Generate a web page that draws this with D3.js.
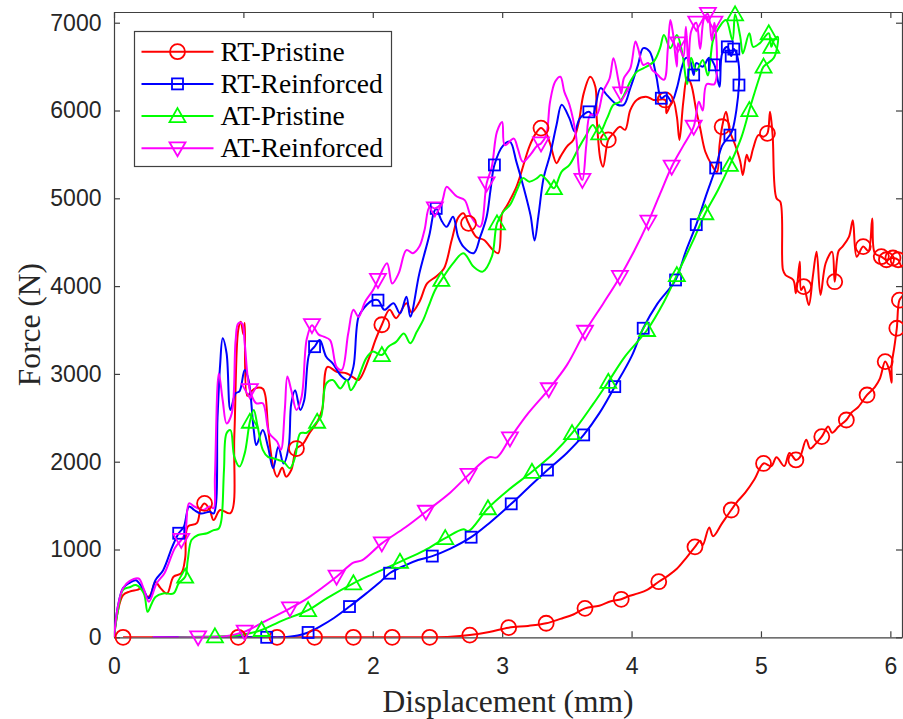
<!DOCTYPE html>
<html>
<head>
<meta charset="utf-8">
<script src="https://cdn.jsdelivr.net/npm/d3@7"></script>
<style>
  html, body { margin: 0; padding: 0; background: #fff; }
  svg { display: block; }
</style>
</head>
<body>
<svg id="chart" width="903" height="719"></svg>
<script>
// Force–displacement curves (loading then unloading). Third element = 1 marks a plotted marker.
const seriesNames = ["RT-Pristine", "RT-Reinforced", "AT-Pristine", "AT-Reinforced"];
const xTicks = [0, 1, 2, 3, 4, 5, 6];
const yTicks = [0, 1000, 2000, 3000, 4000, 5000, 6000, 7000];

const rtPristine = [
  [0,0],[0.03,300],[0.07,480],[0.12,520],[0.18,540],[0.22,560],[0.25,450],[0.28,480],[0.32,630],[0.36,560],
  [0.41,500],[0.46,690],[0.52,730],[0.55,900],[0.57,1260],[0.64,1300],[0.67,1470],[0.70,1525,1],[0.74,1450],
  [0.77,1335],[0.82,1450],[0.90,1415],[0.93,2300],[0.96,3500],[0.98,3595],[1.00,3450],[1.01,3580],[1.03,2750],
  [1.06,2800],[1.10,2840],[1.15,2830],[1.17,2750],[1.19,2400],[1.23,1945],[1.26,1830],[1.30,1930],[1.33,1830],
  [1.37,1905],[1.41,2150,1],[1.46,2200],[1.51,2325],[1.57,2450],[1.61,2600],[1.65,3080],[1.72,3025],[1.80,3005],
  [1.85,2960],[1.89,2930],[1.98,3215],[2.02,3385],[2.07,3560,1],[2.13,3730],[2.18,3635],[2.26,3805],[2.30,3700],
  [2.36,3820],[2.42,4030],[2.49,4110],[2.55,4200],[2.61,4525],[2.66,4780],[2.70,4830],[2.74,4715,1],[2.80,4560],
  [2.86,4525],[2.93,4410],[2.97,4375],[3.00,4830],[3.03,4900],[3.11,5130],[3.21,5590],[3.26,5740],[3.30,5800,1],
  [3.34,5740],[3.37,5625],[3.42,5400],[3.45,5475],[3.50,5590],[3.55,5665],[3.59,5855],[3.63,6195],[3.68,6385],
  [3.72,6270],[3.73,5930],[3.76,5435],[3.78,5360],[3.82,5665,1],[3.86,5740],[3.91,5815],[3.95,5780],[3.99,6005],
  [4.04,6120],[4.12,6155],[4.17,6120],[4.26,6120,1],[4.27,5970],[4.32,6120],[4.35,5930],[4.37,5665],[4.40,6100],
  [4.43,6380],[4.46,6300],[4.50,6000],[4.53,5800],[4.57,5530],[4.62,5380],[4.66,5300],[4.68,5610],[4.70,5815,1],
  [4.73,5985],[4.76,5760],[4.80,5610],[4.84,5420],[4.86,5265],[4.89,5495],[4.91,5420],[4.94,5570],[4.98,5720],
  [5.02,5700],[5.05,5740,1],[5.07,5985],[5.09,5720],[5.12,5000],[5.15,4960],[5.17,4185],[5.19,4125],[5.25,4070],
  [5.27,3920],[5.30,4280],[5.31,3955],[5.33,3995,1],[5.37,3785],[5.40,4100],[5.43,4390],[5.46,3900],[5.50,4260],
  [5.55,4390],[5.57,4050,1],[5.60,4400],[5.63,4450],[5.68,4560],[5.71,4750],[5.74,4335],[5.79,4450,1],[5.83,4400],
  [5.86,4770],[5.88,4375],[5.93,4335,1],[5.97,4300,1],[6.02,4320,1],[6.06,4300,1],[6.09,4220],[6.15,4250],
  [6.15,4100],[6.10,3900],[6.07,3840,1],[6.05,3520,1],[6.03,3300],[6.01,3100],[6.01,2900],[5.99,3050],[5.96,3140,1],
  [5.92,2950],[5.88,2850],[5.82,2760,1],[5.75,2620],[5.70,2560],[5.66,2475,1],[5.60,2400],[5.55,2330],[5.52,2400],
  [5.47,2285,1],[5.42,2200],[5.38,2150],[5.35,2250],[5.30,2050],[5.27,2020,1],[5.22,2100],[5.18,1950],[5.12,2050],
  [5.08,1950],[5.02,1980,1],[4.95,1800],[4.88,1650],[4.82,1550],[4.77,1450,1],[4.70,1300],[4.63,1150],[4.60,1250],
  [4.55,1050],[4.53,1100],[4.49,1030,1],[4.42,900],[4.35,780],[4.28,700],[4.21,633,1],[4.12,540],[4.05,500],
  [3.98,470],[3.92,433,1],[3.84,410],[3.75,360],[3.64,330,1],[3.55,260],[3.45,210],[3.34,160,1],[3.20,130],
  [3.05,110,1],[2.90,60],[2.75,25,1],[2.60,5],[2.44,0,1],[2.15,0,1],[1.85,0,1],[1.55,0,1],[1.26,0,1],[0.96,0,1],
  [0.50,0],[0.07,0,1]
];

const rtReinforced = [
  [0,0],[0.03,350],[0.07,560],[0.12,620],[0.17,650],[0.22,560],[0.27,445],[0.32,650],[0.38,765],[0.45,1030],
  [0.50,1185,1],[0.54,1260],[0.58,1490],[0.62,1450],[0.67,1410],[0.74,1430],[0.77,1410],[0.80,2500],[0.82,3100],
  [0.84,3405],[0.87,3235],[0.90,2590],[0.94,2780],[0.97,2800],[1.01,3045],[1.04,2930],[1.08,2360],[1.10,2190],
  [1.15,2360],[1.19,2170],[1.23,1925],[1.27,2170],[1.31,1980],[1.35,2170],[1.37,2665],[1.40,2815],[1.44,2590],
  [1.47,2700],[1.51,3235],[1.55,3310,1],[1.59,3385],[1.64,3195],[1.69,3120],[1.76,2970],[1.81,2930],[1.85,3080],
  [1.89,3650],[1.94,3765],[1.99,3830],[2.04,3840,1],[2.09,3730],[2.16,3805],[2.21,3690],[2.26,3880],[2.29,3650],
  [2.36,4145],[2.44,4600],[2.47,4830],[2.49,4885,1],[2.53,4750],[2.57,4675],[2.62,4790],[2.66,4560],[2.70,4450],
  [2.78,4375],[2.83,4560],[2.88,4790],[2.91,5095],[2.94,5380,1],[3.01,5605],[3.06,5645],[3.11,5415],[3.17,5100],
  [3.22,4800],[3.25,4520],[3.28,4800],[3.32,5230],[3.37,5495],[3.42,5835],[3.46,6065],[3.52,5910],[3.56,5760],
  [3.60,5910],[3.67,5985,1],[3.70,5950],[3.76,6255],[3.81,6175],[3.89,6065],[3.94,6065],[3.99,6255],[4.05,6520],
  [4.09,6710],[4.14,6670],[4.19,6400],[4.23,6140,1],[4.27,6175],[4.31,6100],[4.35,6255],[4.39,6500],[4.42,6600],
  [4.45,6575],[4.48,6405,1],[4.50,6540],[4.55,6500],[4.60,6600],[4.64,6520,1],[4.68,6270],[4.70,6650],
  [4.74,6725,1],[4.77,6620,1],[4.79,6700,1],[4.81,6650],[4.83,6500],[4.83,6290,1],[4.81,6005],[4.78,5780],
  [4.76,5720,1],[4.70,5600],[4.65,5345,1],[4.58,5050],[4.50,4700,1],[4.42,4400],[4.34,4070,1],[4.20,3800],
  [4.09,3520,1],[4.00,3200],[3.87,2855,1],[3.75,2550],[3.63,2305,1],[3.50,2100],[3.35,1905,1],[3.20,1700],
  [3.07,1520,1],[2.90,1300],[2.76,1140,1],[2.60,1010],[2.46,925,1],[2.35,880],[2.25,820],[2.13,730,1],
  [2.05,620],[1.95,500],[1.82,350,1],[1.70,220],[1.60,130],[1.50,55,1],[1.42,20],[1.30,0],[1.18,0,1],
  [0.90,0],[0.30,0]
];

const atPristine = [
  [0,0],[0.03,300],[0.07,540],[0.12,570],[0.17,595],[0.23,500],[0.26,290],[0.29,380],[0.32,460],[0.38,500],
  [0.46,500],[0.50,615],[0.55,690,1],[0.57,880],[0.60,1110],[0.65,1165],[0.72,1185],[0.77,1220],[0.81,1240],
  [0.83,1335],[0.85,1905],[0.87,2325],[0.90,2360],[0.93,2055],[0.97,1945],[1.01,2095],[1.05,2455,1],[1.08,2590],
  [1.11,2400],[1.15,2135],[1.19,2055],[1.23,2040],[1.27,2020],[1.31,2000],[1.36,1925],[1.40,2055],[1.44,2325],
  [1.49,2330],[1.57,2455,1],[1.60,2510],[1.64,2890],[1.69,2930],[1.75,2835],[1.80,2930],[1.83,2815],[1.88,2930],
  [1.95,3180],[2.00,3255],[2.07,3215,1],[2.12,3310],[2.18,3365],[2.24,3460],[2.29,3350],[2.34,3480],[2.39,3615],
  [2.43,3765],[2.48,3950],[2.53,4070,1],[2.62,4260],[2.70,4375],[2.78,4220],[2.85,4165],[2.92,4335],[2.96,4715,1],
  [3.01,4850],[3.06,4925],[3.12,5115],[3.16,5230],[3.21,5190],[3.27,5230],[3.30,5265],[3.35,5200],[3.40,5115,1],
  [3.46,5305],[3.52,5380],[3.59,5570],[3.65,5720],[3.70,5835],[3.75,5740,1],[3.81,5910],[3.86,6065],[3.91,6100],
  [3.99,6330],[4.04,6440],[4.09,6480],[4.17,6555],[4.22,6710],[4.25,6860],[4.30,6710],[4.35,6860],[4.39,6670],
  [4.43,6300],[4.46,6600],[4.50,6450],[4.55,6575],[4.59,6400],[4.63,6805],[4.68,6955],[4.73,7030],[4.78,6800],
  [4.80,7095,1],[4.84,6840],[4.86,6650],[4.91,6880],[4.94,6725],[4.99,6765],[5.06,6880,1],[5.08,6725,1],
  [5.10,6800],[5.13,6840],[5.10,6600],[5.02,6500,1],[4.99,6385],[4.95,6200],[4.91,6005,1],[4.85,5700],
  [4.76,5380,1],[4.67,5100],[4.57,4830,1],[4.47,4500],[4.35,4125,1],[4.25,3820],[4.12,3500,1],[3.95,3200],
  [3.82,2910,1],[3.70,2650],[3.54,2325,1],[3.40,2100],[3.23,1885,1],[3.05,1680],[2.89,1470,1],[2.74,1210],
  [2.70,1230],[2.56,1130,1],[2.40,990],[2.21,860,1],[2.00,720],[1.85,615,1],[1.65,450],[1.50,310,1],[1.30,190],
  [1.14,83,1],[1.05,45],[0.95,20],[0.78,10,1],[0.50,0]
];

const atReinforced = [
  [0,0],[0.03,350],[0.07,560],[0.12,640],[0.19,670],[0.23,550],[0.27,405],[0.33,615],[0.39,730],[0.47,1015],
  [0.52,1110,1],[0.55,1185],[0.58,1525],[0.62,1490],[0.69,1450],[0.74,1490],[0.77,1470],[0.78,1830],[0.81,3005],
  [0.84,2700],[0.87,2435],[0.91,2550],[0.94,3385],[0.96,3575],[0.99,3575],[1.01,3350],[1.05,2815,1],[1.10,2665],
  [1.15,2665],[1.20,2325],[1.26,2230],[1.29,2135],[1.32,2590],[1.34,2970],[1.37,2815],[1.41,2590],[1.45,2740],
  [1.49,3400],[1.53,3555,1],[1.58,3450],[1.62,3425],[1.67,3385],[1.72,3080],[1.76,3045],[1.81,3460],[1.85,3730],
  [1.89,3650],[1.94,3820],[2.00,3950],[2.04,4070,1],[2.11,4260],[2.15,4030],[2.20,4145],[2.26,4410],[2.31,4375],
  [2.36,4450],[2.40,4640],[2.44,4905],[2.48,4885,1],[2.53,4945],[2.57,5130],[2.60,5095],[2.65,5020],[2.71,4980],
  [2.76,4790],[2.83,4675],[2.88,5170,1],[2.92,5360],[2.96,5760],[3.00,5870],[3.02,5605],[3.09,5680],[3.12,5570],
  [3.16,5415],[3.22,5500],[3.27,5600],[3.30,5625,1],[3.34,5720],[3.37,6100],[3.41,6330],[3.45,6385],[3.48,6215],
  [3.52,6065],[3.57,5720],[3.60,5265],[3.62,5210,1],[3.65,5605],[3.68,5950],[3.73,5950],[3.78,6215],[3.83,6365],
  [3.86,6595],[3.90,6330],[3.92,6195,1],[3.94,6365],[3.99,6480],[4.03,6785],[4.05,6710],[4.09,6520],[4.13,6540],
  [4.16,6460],[4.19,6425],[4.25,6350],[4.28,6700],[4.30,7030],[4.32,6880],[4.35,6500],[4.36,6765,1],[4.40,6610],
  [4.42,6955],[4.44,6500],[4.46,6900],[4.50,7000,1],[4.53,6700],[4.56,7050],[4.59,7100,1],[4.62,6800],
  [4.64,7000,1],[4.66,6600],[4.64,6300],[4.58,6300],[4.55,6000],[4.52,6100],[4.48,5815,1],[4.40,5600],
  [4.31,5360,1],[4.22,5050],[4.13,4735,1],[4.02,4400],[3.91,4105,1],[3.78,3800],[3.64,3480,1],[3.50,3100],
  [3.36,2825,1],[3.20,2550],[3.06,2265,1],[2.96,2050],[2.90,2050],[2.74,1850,1],[2.60,1650],[2.41,1430,1],
  [2.25,1250],[2.07,1070,1],[1.92,880],[1.85,850],[1.72,690,1],[1.50,450],[1.36,330,1],[1.15,170],[1.01,65,1],
  [0.85,10],[0.65,0,1],[0.30,0]
];

const seriesData = [rtPristine, rtReinforced, atPristine, atReinforced];
const seriesColors = ["#ff0000", "#0000ff", "#00ff00", "#ff00ff"];
const seriesMarkers = ["circle", "square", "triangleUp", "triangleDown"];

const svg = d3.select("#chart");
const plotLeft = 114, plotRight = 902, plotTop = 12, plotBottom = 637.3;

const x = d3.scaleLinear().domain([0, 6.09]).range([plotLeft, plotRight]);
const y = d3.scaleLinear().domain([0, 7122]).range([plotBottom, plotTop]);

const axisColor = "#404040";
const tickFont = "'Liberation Sans', Arial, Helvetica, sans-serif";
const serifFont = "'Liberation Serif', 'Times New Roman', Times, serif";

svg.append("defs").append("clipPath").attr("id", "plotClip")
  .append("rect").attr("x", plotLeft).attr("y", plotTop)
  .attr("width", plotRight - plotLeft).attr("height", plotBottom - plotTop);

// marker drawing
function drawMarker(g, kind, cx, cy, color) {
  if (kind === "circle") {
    g.append("circle").attr("cx", cx).attr("cy", cy).attr("r", 7.5)
      .attr("fill", "none").attr("stroke", color).attr("stroke-width", 1.8);
  } else if (kind === "square") {
    g.append("rect").attr("x", cx - 5.5).attr("y", cy - 5.5).attr("width", 11).attr("height", 11)
      .attr("fill", "none").attr("stroke", color).attr("stroke-width", 1.8);
  } else if (kind === "triangleUp") {
    const h = 8;
    g.append("path").attr("d", `M${cx},${cy - h} L${cx + h},${cy + h * 0.75} L${cx - h},${cy + h * 0.75} Z`)
      .attr("fill", "none").attr("stroke", color).attr("stroke-width", 1.8);
  } else {
    const h = 8;
    g.append("path").attr("d", `M${cx},${cy + h} L${cx + h},${cy - h * 0.75} L${cx - h},${cy - h * 0.75} Z`)
      .attr("fill", "none").attr("stroke", color).attr("stroke-width", 1.8);
  }
}

// axes
const gx = svg.append("g").attr("transform", `translate(0,${plotBottom})`)
  .call(d3.axisBottom(x).tickValues(xTicks).tickFormat(d3.format("d")).tickSizeInner(-6).tickSizeOuter(0).tickPadding(20));
const gy = svg.append("g").attr("transform", `translate(${plotLeft},0)`)
  .call(d3.axisLeft(y).tickValues(yTicks).tickFormat(d3.format("d")).tickSizeInner(-6).tickSizeOuter(0).tickPadding(12.5));
const gxt = svg.append("g").attr("transform", `translate(0,${plotTop})`)
  .call(d3.axisTop(x).tickValues(xTicks).tickFormat("").tickSizeInner(-6).tickSizeOuter(0));
const gyr = svg.append("g").attr("transform", `translate(${plotRight},0)`)
  .call(d3.axisRight(y).tickValues(yTicks).tickFormat("").tickSizeInner(-6).tickSizeOuter(0));

[gx, gy, gxt, gyr].forEach(g => {
  g.select(".domain").attr("stroke", axisColor).attr("stroke-width", 1.2);
  g.selectAll(".tick line").attr("stroke", axisColor).attr("stroke-width", 1.2);
  g.selectAll(".tick text").attr("fill", "#262626").style("font-family", tickFont).style("font-size", "23px");
});

// curves
const line = d3.line().x(d => x(d[0])).y(d => y(d[1])).curve(d3.curveCatmullRom.alpha(0.5));
const plot = svg.append("g");
seriesData.forEach((data, i) => {
  plot.append("path").datum(data)
    .attr("clip-path", "url(#plotClip)")
    .attr("d", line)
    .attr("fill", "none")
    .attr("stroke", seriesColors[i])
    .attr("stroke-width", 2)
    .attr("stroke-linejoin", "round");
});
seriesData.forEach((data, i) => {
  const mg = plot.append("g");
  data.filter(d => d[2] === 1).forEach(d => drawMarker(mg, seriesMarkers[i], x(d[0]), y(d[1]), seriesColors[i]));
});

// axis titles
svg.append("text").attr("x", (plotLeft + plotRight) / 2).attr("y", 711.5).attr("text-anchor", "middle")
  .style("font-family", serifFont).style("font-size", "31.5px").attr("fill", "#262626")
  .text("Displacement (mm)");
svg.append("text").attr("transform", `translate(40,${(plotTop + plotBottom) / 2}) rotate(-90)`).attr("text-anchor", "middle")
  .style("font-family", serifFont).style("font-size", "31.5px").attr("fill", "#262626")
  .text("Force (N)");

// legend
const legend = svg.append("g");
legend.append("rect").attr("x", 134.5).attr("y", 31.5).attr("width", 257).attr("height", 135)
  .attr("fill", "#fff").attr("stroke", axisColor).attr("stroke-width", 1.2);
seriesNames.forEach((name, i) => {
  const ly = 51.7 + i * 32.2;
  legend.append("line").attr("x1", 141.5).attr("x2", 213.5).attr("y1", ly).attr("y2", ly)
    .attr("stroke", seriesColors[i]).attr("stroke-width", 2);
  drawMarker(legend, seriesMarkers[i], 177.5, ly, seriesColors[i]);
  legend.append("text").attr("x", 220.5).attr("y", ly + 8.8)
    .style("font-family", serifFont).style("font-size", "27.5px").attr("fill", "#000")
    .text(name);
});
</script>
</body>
</html>
